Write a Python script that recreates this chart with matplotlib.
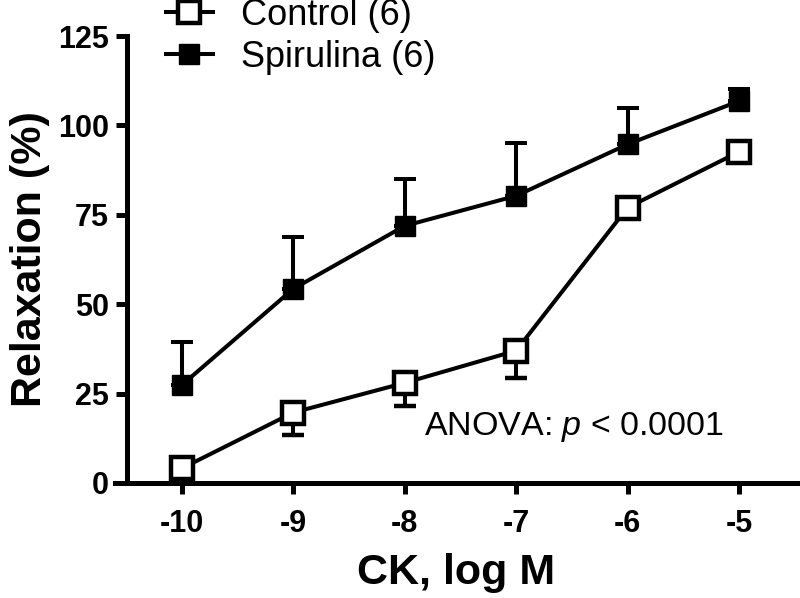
import matplotlib
matplotlib.use("Agg")
import matplotlib.pyplot as plt
from matplotlib.lines import Line2D

plt.rcParams['font.family'] = ['Liberation Sans', 'DejaVu Sans']
plt.rcParams['mathtext.fontset'] = 'custom'
plt.rcParams['mathtext.rm'] = 'Liberation Sans'
plt.rcParams['mathtext.it'] = 'Liberation Sans:italic'

# Données
log_ck = [-10, -9, -8, -7, -6, -5]
control = [4.1, 19.7, 28.0, 37.0, 77.0, 92.6]
control_sem = [1.5, 6.3, 6.5, 7.6, 2.0, 1.5]
spirulina = [27.4, 54.3, 71.9, 80.3, 94.7, 106.8]
spirulina_sem = [12.0, 14.5, 13.1, 14.7, 10.2, 3.4]
labels = ["Control (6)", "Spirulina (6)"]
x_ticks = [-10, -9, -8, -7, -6, -5]
y_ticks = [0, 25, 50, 75, 100, 125]

fig = plt.figure(figsize=(8, 5.98), dpi=100)
ax = fig.add_axes([115 / 800, 1 - 483 / 598, (798 - 115) / 800, (483 - 36) / 598])

lw = 2.9
zeros = [0] * len(log_ck)

# Spirulina : barres d'erreur vers le haut
ax.errorbar(log_ck, spirulina, yerr=[zeros, spirulina_sem], color="black",
            lw=lw, elinewidth=lw, capsize=8, capthick=lw,
            marker="s", markersize=15, markerfacecolor="black",
            markeredgecolor="black", zorder=3, clip_on=False)

# Control : barres d'erreur vers le bas
ax.errorbar(log_ck, control, yerr=[control_sem, zeros], color="black",
            lw=lw, elinewidth=lw, capsize=8, capthick=lw,
            marker="s", markersize=16, markerfacecolor="white",
            markeredgecolor="black", markeredgewidth=3.2, zorder=4, clip_on=False)

ax.set_xlim(-10.6, -4.47)
ax.set_ylim(0, 125)
ax.set_xticks(x_ticks)
ax.set_xticklabels([str(t) for t in x_ticks])
ax.set_yticks(y_ticks)

ax.spines['top'].set_visible(False)
ax.spines['right'].set_visible(False)
ax.spines['left'].set_position(('data', -10.49))
for s in ['left', 'bottom']:
    ax.spines[s].set_linewidth(3.6)
ax.tick_params(axis='both', width=3.6, length=8, direction='out', labelsize=22)
ax.tick_params(axis='x', pad=11)
ax.tick_params(axis='y', pad=5)
for lab in ax.get_xticklabels() + ax.get_yticklabels():
    lab.set_fontweight('bold')

ax.set_xlabel("CK, log M", fontsize=31, fontweight='bold', labelpad=10)
ax.set_ylabel("Relaxation (%)", fontsize=31, fontweight='bold', labelpad=6)

ax.text(-7.83, 13.4, "ANOVA: $\\it{p}$ < 0.0001", fontsize=24.5, ha='left', va='baseline')

# Légende
handles = [
    Line2D([], [], color="black", lw=lw, marker="s", markersize=16,
           markerfacecolor="white", markeredgecolor="black", markeredgewidth=3.2),
    Line2D([], [], color="black", lw=lw, marker="s", markersize=15,
           markerfacecolor="black"),
]
fig.legend(handles, labels, loc='center left', bbox_to_anchor=(166 / 800, 1 - 36.5 / 598),
           frameon=False, fontsize=26, handlelength=1.3, handletextpad=0.78,
           labelspacing=0.2, borderpad=0, borderaxespad=0)

fig.savefig("out.png", dpi=100)
